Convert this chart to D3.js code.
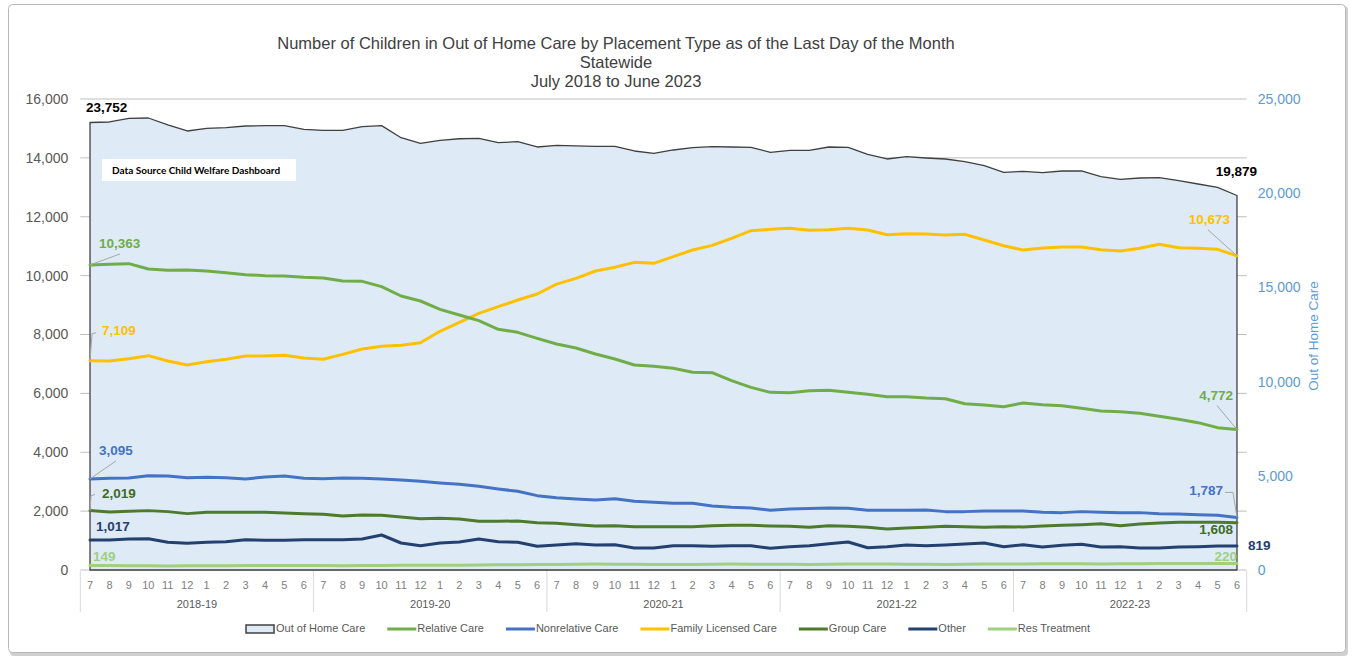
<!DOCTYPE html>
<html>
<head>
<meta charset="utf-8">
<script src="https://cdn.jsdelivr.net/npm/d3@7"></script>
<style>
	body { margin: 0; background: #ffffff; }
	svg { display: block; font-family: 'Liberation Sans', Arial, sans-serif; }
</style>
</head>
<body>
<div id="chart"></div>
<script>
// Tick labels
const monthLabels = ['7', '8', '9', '10', '11', '12', '1', '2', '3', '4', '5', '6'];
const fiscalYears = ['2018-19', '2019-20', '2020-21', '2021-22', '2022-23'];

// Series values, July 2018 .. June 2023
const outOfHomeCare = [
	23752, 23780, 23976, 23992, 23621, 23302, 23445, 23478, 23568, 23584, 23584, 23392,
	23339, 23339, 23531, 23584, 22947, 22649, 22800, 22890, 22914, 22683, 22736, 22453,
	22543, 22507, 22490, 22490, 22241, 22117, 22294, 22417, 22470, 22452, 22435, 22170,
	22276, 22276, 22452, 22435, 22064, 21816, 21940, 21869, 21816, 21674, 21461, 21108,
	21161, 21090, 21179, 21179, 20878, 20737, 20807, 20825, 20666, 20489, 20312, 19879
];
const relativeCare = [
	10363, 10383, 10406, 10225, 10180, 10191, 10157, 10100, 10032, 9998, 9987, 9942,
	9919, 9817, 9806, 9625, 9308, 9138, 8855, 8662, 8470, 8176, 8074, 7870,
	7677, 7541, 7338, 7168, 6964, 6919, 6851, 6715, 6703, 6431, 6205, 6035,
	6024, 6092, 6103, 6035, 5967, 5888, 5888, 5843, 5820, 5650, 5605, 5549,
	5673, 5617, 5583, 5492, 5402, 5379, 5322, 5220, 5118, 5005, 4835, 4772
];
const nonrelativeCare = [
	3095, 3115, 3126, 3205, 3194, 3137, 3149, 3137, 3092, 3160, 3194, 3115,
	3104, 3126, 3115, 3092, 3058, 3013, 2956, 2911, 2843, 2753, 2673, 2526,
	2458, 2413, 2379, 2424, 2334, 2300, 2266, 2266, 2175, 2130, 2107, 2028,
	2073, 2085, 2107, 2096, 2028, 2028, 2028, 2039, 1983, 1983, 2005, 2005,
	2005, 1960, 1949, 1983, 1960, 1949, 1949, 1915, 1903, 1881, 1858, 1787
];
const familyLicensedCare = [
	7109, 7100, 7179, 7281, 7100, 6964, 7077, 7157, 7270, 7270, 7292, 7202,
	7157, 7326, 7507, 7598, 7632, 7722, 8110, 8413, 8719, 8945, 9172, 9376,
	9710, 9908, 10157, 10282, 10451, 10417, 10644, 10870, 11029, 11266, 11527, 11572,
	11606, 11538, 11560, 11606, 11550, 11391, 11425, 11413, 11380, 11402, 11210, 11017,
	10870, 10938, 10972, 10972, 10881, 10836, 10927, 11063, 10949, 10927, 10893, 10673
];
const groupCare = [
	2019, 1971, 1994, 2017, 1983, 1915, 1960, 1960, 1960, 1960, 1937, 1915,
	1892, 1835, 1869, 1858, 1801, 1745, 1756, 1733, 1654, 1654, 1666, 1609,
	1586, 1541, 1496, 1507, 1473, 1473, 1473, 1473, 1507, 1518, 1518, 1496,
	1485, 1450, 1507, 1485, 1450, 1394, 1428, 1450, 1485, 1473, 1450, 1473,
	1462, 1496, 1518, 1541, 1575, 1507, 1564, 1598, 1620, 1620, 1620, 1608
];
const other = [
	1017, 1017, 1053, 1064, 940, 906, 940, 962, 1030, 1008, 1008, 1030,
	1030, 1030, 1053, 1189, 917, 826, 917, 951, 1053, 962, 940, 804,
	849, 894, 849, 860, 747, 747, 826, 826, 804, 826, 826, 736,
	792, 826, 894, 951, 758, 792, 849, 826, 849, 883, 917, 792,
	860, 781, 838, 872, 781, 792, 747, 747, 781, 792, 815, 819
];
const resTreatment = [
	149, 150, 148, 145, 140, 142, 145, 148, 150, 152, 155, 152,
	150, 148, 150, 155, 160, 158, 160, 165, 170, 175, 180, 185,
	190, 195, 200, 198, 195, 190, 188, 190, 195, 200, 198, 195,
	192, 190, 195, 200, 205, 200, 195, 192, 190, 195, 200, 205,
	208, 210, 212, 210, 205, 210, 215, 218, 220, 218, 222, 220
];

const categories = fiscalYears.flatMap((fy) => monthLabels.map((m) => fy + ' ' + m));

const lineSeries = [
	{ name: 'Relative Care', values: relativeCare, color: '#70ad47' },
	{ name: 'Nonrelative Care', values: nonrelativeCare, color: '#4472c4' },
	{ name: 'Family Licensed Care', values: familyLicensedCare, color: '#ffc000' },
	{ name: 'Group Care', values: groupCare, color: '#4e7a2e' },
	{ name: 'Other', values: other, color: '#24406f' },
	{ name: 'Res Treatment', values: resTreatment, color: '#9fcf7f' }
];

// Chart dimensions
const width = 1354;
const height = 656;
const plotLeft = 80.3;
const plotRight = 1246.7;
const plotTop = 99;
const plotBottom = 570;

const svg = d3
	.select('#chart')
	.append('svg')
	.attr('width', width)
	.attr('height', height)
	.attr('viewBox', [0, 0, width, height]);

// Outer frame with a little shadow
svg.append('rect')
	.attr('x', 10).attr('y', 6).attr('width', 1338).attr('height', 650)
	.attr('rx', 4).attr('fill', '#d0d0d0');
svg.append('rect')
	.attr('x', 8.5).attr('y', 4.5).attr('width', 1337).attr('height', 648)
	.attr('rx', 4).attr('fill', '#ffffff').attr('stroke', '#b8b8b8');

// Scales
const x = d3.scaleBand().domain(categories).range([plotLeft, plotRight]);
const cx = (i) => x(categories[i]) + x.bandwidth() / 2;
const yLeft = d3.scaleLinear().domain([0, 16000]).range([plotBottom, plotTop]);
const yRight = d3.scaleLinear().domain([0, 25000]).range([plotBottom, plotTop]);

// Title
const titleLines = [
	'Number of Children in Out of Home Care by Placement Type as of the Last Day of the Month',
	'Statewide',
	'July 2018 to June 2023'
];
svg.append('g')
	.selectAll('text')
	.data(titleLines)
	.join('text')
	.attr('x', 616)
	.attr('y', (d, i) => 49 + i * 19)
	.attr('text-anchor', 'middle')
	.attr('fill', '#404040')
	.style('font-size', '16.5px')
	.text((d) => d);

// Gridlines (behind the area)
const leftTicks = d3.range(0, 16001, 2000);
svg.append('g')
	.selectAll('line')
	.data(leftTicks)
	.join('line')
	.attr('x1', plotLeft)
	.attr('x2', plotRight)
	.attr('y1', (d) => yLeft(d))
	.attr('y2', (d) => yLeft(d))
	.attr('stroke', '#bfbfbf')
	.attr('stroke-width', 1);

// Left axis
svg.append('g')
	.attr('transform', 'translate(' + plotLeft + ',0)')
	.call(d3.axisLeft(yLeft).tickValues(leftTicks).tickFormat(d3.format(',')).tickSize(0).tickPadding(12))
	.call((g) => g.select('.domain').remove())
	.selectAll('text')
	.attr('fill', '#595959')
	.style('font-size', '14px')
	.style('font-family', "'Liberation Sans', Arial, sans-serif");

// Right axis
svg.append('g')
	.attr('transform', 'translate(' + plotRight + ',0)')
	.call(d3.axisRight(yRight).tickValues(d3.range(0, 25001, 5000)).tickFormat(d3.format(',')).tickSize(0).tickPadding(11))
	.call((g) => g.select('.domain').remove())
	.selectAll('text')
	.attr('fill', '#5b9bd5')
	.style('font-size', '14px')
	.style('font-family', "'Liberation Sans', Arial, sans-serif");

svg.append('text')
	.attr('transform', 'translate(1318,' + 336 + ') rotate(-90)')
	.attr('text-anchor', 'middle')
	.attr('fill', '#5b9bd5')
	.style('font-size', '13.5px')
	.text('Out of Home Care');

// Out of Home Care area (right axis)
const area = d3
	.area()
	.x((d, i) => cx(i))
	.y0(yRight(0))
	.y1((d) => yRight(d));
svg.append('path')
	.datum(outOfHomeCare)
	.attr('d', area)
	.attr('fill', '#deebf7')
	.attr('stroke', '#404040')
	.attr('stroke-width', 1.3)
	.attr('stroke-linejoin', 'round');

// Placement type lines (left axis)
const line = d3
	.line()
	.x((d, i) => cx(i))
	.y((d) => yLeft(d));
svg.append('g')
	.selectAll('path')
	.data(lineSeries.slice().reverse())
	.join('path')
	.attr('d', (d) => line(d.values))
	.attr('fill', 'none')
	.attr('stroke', (d) => d.color)
	.attr('stroke-width', 3)
	.attr('stroke-linejoin', 'round')
	.attr('stroke-linecap', 'round');

// Category axis box
const axisG = svg.append('g');
const groupEdges = d3.range(0, fiscalYears.length + 1).map((g) =>
	g < fiscalYears.length ? x(categories[g * 12]) : plotRight
);
axisG.selectAll('line')
	.data(groupEdges)
	.join('line')
	.attr('x1', (d) => d)
	.attr('x2', (d) => d)
	.attr('y1', plotBottom + 1)
	.attr('y2', 612)
	.attr('stroke', '#d9d9d9');
axisG.append('g')
	.selectAll('text')
	.data(categories)
	.join('text')
	.attr('x', (d, i) => cx(i))
	.attr('y', 589)
	.attr('text-anchor', 'middle')
	.attr('fill', '#808080')
	.style('font-size', '11px')
	.text((d, i) => monthLabels[i % 12]);
axisG.append('g')
	.selectAll('text')
	.data(fiscalYears)
	.join('text')
	.attr('x', (d, g) => (groupEdges[g] + groupEdges[g + 1]) / 2)
	.attr('y', 608)
	.attr('text-anchor', 'middle')
	.attr('fill', '#595959')
	.style('font-size', '11px')
	.text((d) => d);

// Data source note
svg.append('rect')
	.attr('x', 102).attr('y', 159).attr('width', 194).attr('height', 22)
	.attr('fill', '#ffffff');
svg.append('text')
	.attr('x', 112).attr('y', 174)
	.attr('fill', '#000000')
	.style('font-family', 'Lato, sans-serif')
	.style('font-weight', 700)
	.style('font-size', '10px')
	.text('Data Source Child Welfare Dashboard');

// First / last value labels
const fmt = d3.format(',');
const n = outOfHomeCare.length - 1;
const endLabels = [
	{ v: outOfHomeCare, i: 0, scale: yRight, color: '#000000', dx: -4, dy: -14, anchor: 'start' },
	{ v: outOfHomeCare, i: n, scale: yRight, color: '#000000', dx: 20, dy: -23, anchor: 'end' },
	{ v: relativeCare, i: 0, scale: yLeft, color: '#70ad47', dx: 9, dy: -21, anchor: 'start', leader: [[0, 0], [30, -11]] },
	{ v: relativeCare, i: n, scale: yLeft, color: '#70ad47', dx: -4, dy: -33, anchor: 'end', leader: [[0, 0], [-20, -24]] },
	{ v: familyLicensedCare, i: 0, scale: yLeft, color: '#ffc000', dx: 12, dy: -29, anchor: 'start', leader: [[0, 0], [2, -27], [6, -28]] },
	{ v: familyLicensedCare, i: n, scale: yLeft, color: '#ffc000', dx: -7, dy: -35, anchor: 'end', leader: [[0, 0], [-29, -26]] },
	{ v: nonrelativeCare, i: 0, scale: yLeft, color: '#4472c4', dx: 9, dy: -27, anchor: 'start', leader: [[0, 0], [26, -18]] },
	{ v: nonrelativeCare, i: n, scale: yLeft, color: '#4472c4', dx: -14, dy: -26, anchor: 'end', leader: [[0, 0], [-4, -25], [-12, -25]] },
	{ v: groupCare, i: 0, scale: yLeft, color: '#3f6a26', dx: 12, dy: -16, anchor: 'start', leader: [[0, 0], [1, -15], [5, -16]] },
	{ v: groupCare, i: n, scale: yLeft, color: '#3f6a26', dx: -4, dy: 8, anchor: 'end' },
	{ v: other, i: 0, scale: yLeft, color: '#24406f', dx: 6, dy: -13, anchor: 'start' },
	{ v: other, i: n, scale: yLeft, color: '#24406f', dx: 11, dy: 1, anchor: 'start' },
	{ v: resTreatment, i: 0, scale: yLeft, color: '#9fcf7f', dx: 3, dy: -8, anchor: 'start' },
	{ v: resTreatment, i: n, scale: yLeft, color: '#9fcf7f', dx: 0, dy: -6, anchor: 'end' }
];

const labelG = svg.append('g');
endLabels.forEach((d) => {
	const px = cx(d.i);
	const py = d.scale(d.v[d.i]);
	if (d.leader) {
		labelG.append('polyline')
			.attr('points', d.leader.map((p) => [px + p[0], py + p[1]].join(',')).join(' '))
			.attr('fill', 'none')
			.attr('stroke', '#a6a6a6')
			.attr('stroke-width', 1);
	}
	labelG.append('text')
		.attr('x', px + d.dx)
		.attr('y', py + d.dy)
		.attr('text-anchor', d.anchor)
		.attr('dominant-baseline', 'middle')
		.attr('fill', d.color)
		.style('font-size', '13.5px')
		.style('font-weight', 700)
		.text(fmt(d.v[d.i]));
});

// Legend
const legend = svg.append('g').attr('transform', 'translate(0,629)');
const legendItems = [{ name: 'Out of Home Care', area: true }].concat(lineSeries);
let lx = 0;
legendItems.forEach((d) => {
	const item = legend.append('g').attr('transform', 'translate(' + lx + ',0)');
	if (d.area) {
		item.append('rect')
			.attr('x', 0).attr('y', -4).attr('width', 28).attr('height', 8)
			.attr('fill', '#deebf7').attr('stroke', '#404040').attr('stroke-width', 1.5);
	} else {
		item.append('line')
			.attr('x1', 0).attr('x2', 29)
			.attr('stroke', d.color).attr('stroke-width', 3);
	}
	const t = item.append('text')
		.attr('x', 30)
		.attr('dominant-baseline', 'middle')
		.attr('fill', '#595959')
		.style('font-size', '11px')
		.text(d.name);
	lx += 30 + t.node().getComputedTextLength() + 22;
});
lx -= 22;
legend.attr('transform', 'translate(' + (668 - lx / 2) + ',629)');
</script>
</body>
</html>
